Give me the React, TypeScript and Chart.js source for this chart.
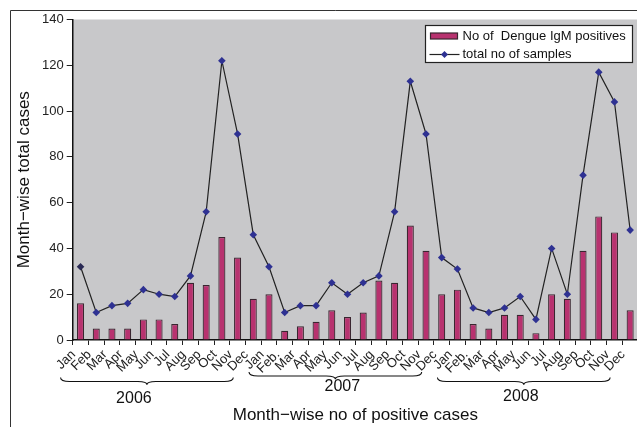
import React, { useEffect, useRef } from "react";
import { Chart, registerables } from "chart.js";

Chart.register(...registerables);

const months = [
  "Jan", "Feb", "Mar", "Apr", "May", "Jun", "Jul", "Aug", "Sep", "Oct", "Nov", "Dec",
  "Jan", "Feb.", "Mar", "Apr", "May", "Jun", "Jul", "Aug", "Sep", "Oct", "Nov", "Dec",
  "Jan", "Feb.", "Mar", "Apr", "May", "Jun", "Jul", "Aug", "Sep", "Oct", "Nov", "Dec",
];
const years = ["2006", "2007", "2008"];
const positives = [
  16, 5, 5, 5, 9, 9, 7, 25, 24, 45, 36, 18,
  20, 4, 6, 8, 13, 10, 12, 26, 25, 50, 39, 20,
  22, 7, 5, 11, 11, 3, 20, 18, 39, 54, 47, 13,
];
const totals = [
  32, 12, 15, 16, 22, 20, 19, 28, 56, 122, 90, 46,
  32, 12, 15, 15, 25, 20, 25, 28, 56, 113, 90, 36,
  31, 14, 12, 14, 19, 9, 40, 20, 72, 117, 104, 48,
];
const yMin = 0;
const yMax = 140;
const yStep = 20;

const barLabel = "No of  Dengue IgM positives";
const lineLabel = "total no of samples";
const xTitle = "Month\u2212wise no of positive cases";
const yTitle = "Month\u2212wise total cases";

const FONT = '"Liberation Sans", Arial, Helvetica, sans-serif';
const BAR_COLOR = "#b8326f";
const BAR_BORDER = "#3a2630";
const LINE_COLOR = "#222222";
const POINT_COLOR = "#2e3192";
const PLOT_BG = "#c8c8ca";

// brace/year label layout (style constants)
const braceShift = -20;
const braceY = [381.5, 376, 381.5];
const yearLabelY = [399, 387, 397];
const yearLabelDx = [-13, 7, -3];

function drawBrace(ctx: CanvasRenderingContext2D, x1: number, x2: number, y: number) {
  const h = 4;
  const r = 9;
  const mid = (x1 + x2) / 2;
  ctx.beginPath();
  ctx.moveTo(x1, y - h);
  ctx.quadraticCurveTo(x1, y, x1 + r, y);
  ctx.lineTo(mid - r, y);
  ctx.quadraticCurveTo(mid, y, mid, y + h * 0.8);
  ctx.quadraticCurveTo(mid, y, mid + r, y);
  ctx.lineTo(x2 - r, y);
  ctx.quadraticCurveTo(x2, y, x2, y - h);
  ctx.stroke();
}

const customPlugin = {
  id: "customDecor",
  beforeDraw(chart: any) {
    const { ctx, chartArea } = chart;
    ctx.save();
    ctx.fillStyle = PLOT_BG;
    ctx.fillRect(chartArea.left, chartArea.top, chartArea.right - chartArea.left, chartArea.bottom - chartArea.top);
    ctx.restore();
  },
  afterDraw(chart: any) {
    const { ctx, chartArea } = chart;
    const xs = chart.scales.x;
    ctx.save();
    // outer frame
    ctx.strokeStyle = "#333";
    ctx.lineWidth = 1;
    ctx.beginPath();
    ctx.moveTo(10.5, chart.height + 5);
    ctx.lineTo(10.5, 10.5);
    ctx.lineTo(chart.width + 5, 10.5);
    ctx.stroke();

    // legend
    const lw = 207;
    const lh = 37;
    const lx = Math.round(chartArea.right - 6 - lw) + 0.5;
    const ly = Math.round(chartArea.top + 5) + 0.5;
    ctx.fillStyle = "#ffffff";
    ctx.fillRect(lx, ly, lw, lh);
    ctx.strokeStyle = "#222";
    ctx.lineWidth = 1.2;
    ctx.strokeRect(lx, ly, lw, lh);
    const ds = chart.data.datasets;
    const barDs = ds.find((d: any) => d.type === "bar");
    const lineDs = ds.find((d: any) => d.type === "line");
    const r1 = ly + 10.5;
    const r2 = ly + 29;
    ctx.fillStyle = barDs.backgroundColor;
    ctx.fillRect(lx + 5, r1 - 3, 27, 6);
    ctx.strokeStyle = BAR_BORDER;
    ctx.lineWidth = 1.2;
    ctx.strokeRect(lx + 5, r1 - 3, 27, 6);
    ctx.strokeStyle = LINE_COLOR;
    ctx.lineWidth = 1.2;
    ctx.beginPath();
    ctx.moveTo(lx + 4, r2);
    ctx.lineTo(lx + 34, r2);
    ctx.stroke();
    ctx.fillStyle = POINT_COLOR;
    ctx.beginPath();
    const dx = lx + 19, dr = 3.5;
    ctx.moveTo(dx, r2 - dr);
    ctx.lineTo(dx + dr, r2);
    ctx.lineTo(dx, r2 + dr);
    ctx.lineTo(dx - dr, r2);
    ctx.closePath();
    ctx.fill();
    ctx.fillStyle = "#111";
    ctx.font = `13px ${FONT}`;
    ctx.textBaseline = "middle";
    ctx.textAlign = "left";
    ctx.fillText(barDs.label, lx + 37, r1);
    ctx.fillText(lineDs.label, lx + 37, r2);

    // year braces and labels
    ctx.strokeStyle = "#111";
    ctx.lineWidth = 1.1;
    ctx.font = `16px ${FONT}`;
    ctx.textAlign = "center";
    ctx.fillStyle = "#111";
    years.forEach((yr, i) => {
      const x1 = xs.getPixelForValue(i * 12) + braceShift;
      const x2 = xs.getPixelForValue(i * 12 + 11) + braceShift;
      drawBrace(ctx, x1, x2, braceY[i]);
      ctx.fillText(yr, (x1 + x2) / 2 + yearLabelDx[i], yearLabelY[i]);
    });
    ctx.restore();
  },
};

export default function App() {
  const ref = useRef<HTMLCanvasElement | null>(null);
  useEffect(() => {
    if (!ref.current) return;
    Chart.defaults.font.family = FONT;
    const chart = new Chart(ref.current, {
      data: {
        labels: months,
        datasets: [
          {
            type: "line",
            label: lineLabel,
            data: totals,
            borderColor: LINE_COLOR,
            borderWidth: 1.2,
            pointStyle: "rectRot",
            pointRadius: 3.8,
            pointBackgroundColor: totals.map((_, i) => (i === 0 ? "#2a2a55" : POINT_COLOR)),
            pointBorderColor: totals.map((_, i) => (i === 0 ? "#2a2a55" : POINT_COLOR)),
            pointBorderWidth: 0,
            tension: 0,
            order: 0,
          } as any,
          {
            type: "bar",
            label: barLabel,
            data: positives,
            backgroundColor: BAR_COLOR,
            borderColor: BAR_BORDER,
            borderWidth: 1.2,
            borderSkipped: "bottom",
            categoryPercentage: 1,
            barPercentage: 0.45,
            order: 1,
          } as any,
        ],
      },
      options: {
        responsive: false,
        animation: false,
        layout: { padding: { left: 0, right: 22, top: 19.5, bottom: 0 } },
        plugins: { legend: { display: false }, tooltip: { enabled: false } },
        scales: {
          x: {
            type: "category",
            offset: true,
            grid: { offset: true, drawOnChartArea: false, drawTicks: true, tickLength: 5, color: "#222", lineWidth: 1 },
            border: { color: "#111", width: 1.5 },
            ticks: {
              autoSkip: false,
              minRotation: 45,
              maxRotation: 45,
              labelOffset: -7,
              padding: 2,
              color: "#222",
              font: { size: 13, family: FONT },
            },
            title: {
              display: true,
              text: xTitle,
              color: "#111",
              font: { size: 17, family: FONT },
              padding: { top: 0, bottom: 1 },
            },
            afterFit: (s: any) => {
              s.height = 87;
            },
          },
          y: {
            min: yMin,
            max: yMax,
            grid: { drawOnChartArea: false, drawTicks: true, tickLength: 6, color: "#222", lineWidth: 1 },
            border: { color: "#111", width: 1.5 },
            ticks: { stepSize: yStep, color: "#222", padding: 3, font: { size: 13, family: FONT } },
            title: {
              display: true,
              text: yTitle,
              color: "#111",
              font: { size: 17, family: FONT },
              padding: { top: 14, bottom: 0 },
            },
            afterFit: (s: any) => {
              s.width = 72.7;
            },
          },
        },
      },
      plugins: [customPlugin],
    });
    return () => chart.destroy();
  }, []);
  return (
    <div style={{ position: "absolute", left: 0, top: 0, width: 637, height: 427, overflow: "hidden", background: "#fff" }}>
      <canvas ref={ref} width={660} height={427} style={{ display: "block", width: 660, height: 427 }} />
    </div>
  );
}
